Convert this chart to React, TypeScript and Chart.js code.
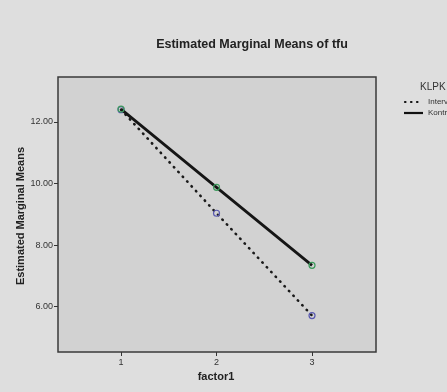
import React, { useEffect, useRef } from "react";
import { Chart, registerables } from "chart.js";

Chart.register(...registerables);

const categories = [1, 2, 3];
const intervensi = [12.4, 9.04, 5.72];
const kontrol = [12.42, 9.88, 7.35];
const yTicks = [6, 8, 10, 12];
const seriesNames = ["Intervensi", "Kontrol"];
const chartTitle = "Estimated Marginal Means of tfu";
const yTitle = "Estimated Marginal Means";
const xTitle = "factor1";
const legendTitle = "KLPK";

const FONT = "'Liberation Sans', Arial, sans-serif";

const decor = {
  id: "decor",
  beforeDraw(chart: any) {
    const { ctx, chartArea: a, width, height } = chart;
    ctx.save();
    ctx.fillStyle = "#dedede";
    ctx.fillRect(0, 0, width, height);
    ctx.fillStyle = "#d2d2d2";
    ctx.fillRect(a.left, a.top, a.right - a.left, a.bottom - a.top);
    ctx.restore();
  },
  afterDraw(chart: any) {
    const { ctx, chartArea: a } = chart;
    ctx.save();
    ctx.strokeStyle = "#3a3a3a";
    ctx.lineWidth = 1.5;
    ctx.strokeRect(a.left, a.top, a.right - a.left, a.bottom - a.top);
    ctx.fillStyle = "#222";
    ctx.textAlign = "center";
    ctx.textBaseline = "middle";
    ctx.font = `bold 12.5px ${FONT}`;
    ctx.fillText(chartTitle, 252, 45);
    ctx.font = `bold 11px ${FONT}`;
    ctx.fillText(xTitle, 216, 377);
    ctx.save();
    ctx.translate(21, 216);
    ctx.rotate(-Math.PI / 2);
    ctx.fillText(yTitle, 0, 0);
    ctx.restore();
    // legend
    ctx.textAlign = "left";
    ctx.font = `10px ${FONT}`;
    ctx.fillStyle = "#333";
    ctx.fillText(legendTitle, 420, 87);
    ctx.font = `8px ${FONT}`;
    ctx.fillText(seriesNames[0], 428, 102);
    ctx.fillText(seriesNames[1], 428, 113);
    ctx.strokeStyle = "#111";
    ctx.lineWidth = 2.2;
    ctx.lineCap = "round";
    ctx.setLineDash([0.5, 5.5]);
    ctx.beginPath();
    ctx.moveTo(405, 102);
    ctx.lineTo(422, 102);
    ctx.stroke();
    ctx.setLineDash([]);
    ctx.lineCap = "butt";
    ctx.beginPath();
    ctx.moveTo(404, 113);
    ctx.lineTo(423, 113);
    ctx.stroke();
    ctx.restore();
  },
};

export default function App() {
  const ref = useRef<HTMLCanvasElement>(null);
  useEffect(() => {
    document.body.style.margin = "0";
    const chart = new Chart(ref.current!, {
      type: "line",
      data: {
        datasets: [
          {
            label: seriesNames[0],
            order: 1,
            data: categories.map((c, i) => ({ x: c, y: intervensi[i] })),
            borderColor: "#1a1a1a",
            borderWidth: 2.6,
            borderDash: [0.5, 6],
            borderCapStyle: "round",
            pointRadius: 3,
            pointBorderWidth: 1.2,
            pointBorderColor: "#5a5ab0",
            pointBackgroundColor: "rgba(0,0,0,0)",
            fill: false,
            tension: 0,
          },
          {
            label: seriesNames[1],
            order: 0,
            data: categories.map((c, i) => ({ x: c, y: kontrol[i] })),
            borderColor: "#151515",
            borderWidth: 2.8,
            pointRadius: 3,
            pointBorderWidth: 1.2,
            pointBorderColor: "#3c9a5c",
            pointBackgroundColor: "rgba(0,0,0,0)",
            fill: false,
            tension: 0,
          },
        ],
      },
      options: {
        animation: false,
        responsive: false,
        devicePixelRatio: 1,
        layout: { padding: { top: 77, right: 71, left: 0, bottom: 0 } },
        plugins: { legend: { display: false }, title: { display: false }, tooltip: { enabled: false } },
        scales: {
          x: {
            type: "linear",
            min: 0.34,
            max: 3.67,
            afterBuildTicks: (s: any) => {
              s.ticks = categories.map((v) => ({ value: v }));
            },
            afterFit: (s: any) => {
              s.height = 40;
            },
            grid: { drawOnChartArea: false, drawTicks: true, tickLength: 4, color: "#333" },
            border: { display: false },
            ticks: {
              color: "#333",
              font: { size: 9, family: FONT },
              padding: 1,
              callback: (v: any) => String(v),
            },
          },
          y: {
            type: "linear",
            min: 4.54,
            max: 13.46,
            afterBuildTicks: (s: any) => {
              s.ticks = yTicks.map((v) => ({ value: v }));
            },
            afterFit: (s: any) => {
              s.width = 58;
            },
            grid: { drawOnChartArea: false, drawTicks: true, tickLength: 4, color: "#333" },
            border: { display: false },
            ticks: {
              color: "#333",
              font: { size: 9, family: FONT },
              padding: 1,
              callback: (v: any) => Number(v).toFixed(2),
            },
          },
        },
      },
      plugins: [decor],
    } as any);
    return () => chart.destroy();
  }, []);
  return (
    <div style={{ position: "fixed", left: 0, top: 0, width: 447, height: 392 }}>
      <canvas ref={ref} width={447} height={392} style={{ width: 447, height: 392 }} />
    </div>
  );
}
